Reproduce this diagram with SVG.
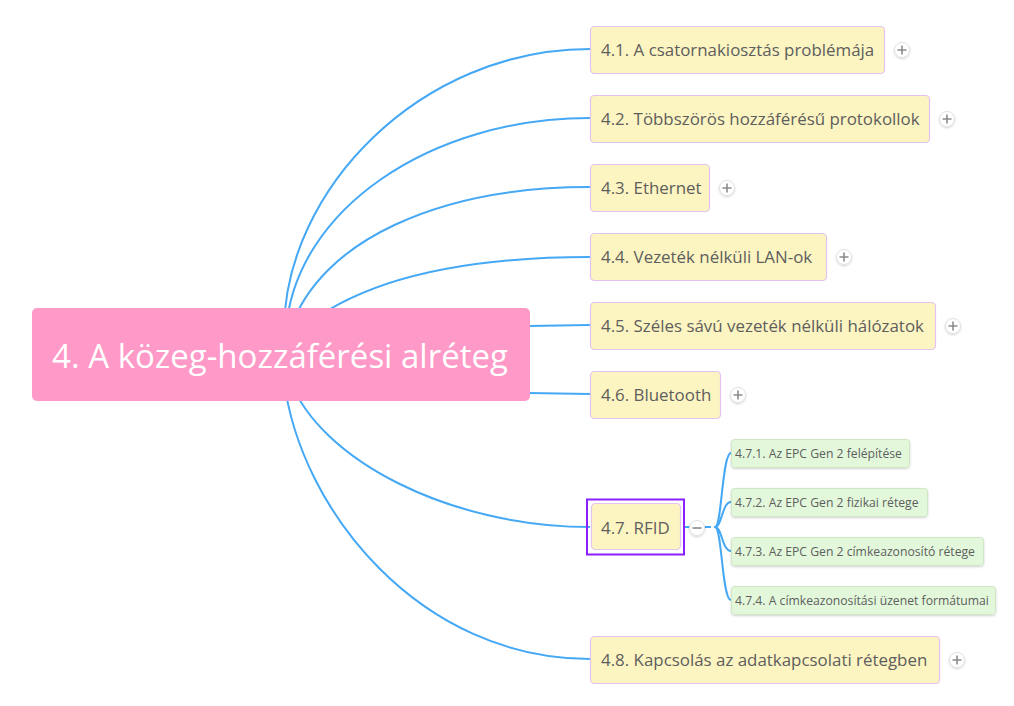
<svg xmlns="http://www.w3.org/2000/svg" width="1014" height="706" viewBox="0 0 1014 706">
<defs>
<style>
.conn{fill:none;stroke:#45A8F5;stroke-width:2}
.topic{fill:#FDF5C1;stroke:#E3C2F0;stroke-width:1.2}
.tt{font-family:"Open Sans","Noto Sans",sans-serif;font-size:16.9px;fill:#5E5E5E}
.sub{fill:#E3F8DB;stroke:#CFE6C7;stroke-width:1}
.st{font-family:"Open Sans","Noto Sans",sans-serif;font-size:12.2px;fill:#5E5E5E}
.btn{fill:#fff;stroke:#E2E2E2;stroke-width:1}
.btnl{stroke:#8C8C8C;stroke-width:1.6}
</style>
<filter id="sh" x="-20%" y="-20%" width="140%" height="160%">
<feDropShadow dx="0" dy="1" stdDeviation="1" flood-color="#000" flood-opacity="0.18"/>
</filter>
<g id="plus"><circle r="7.5" class="btn" filter="url(#sh)"/><path d="M-4.5 0H4.5M0 -4.5V4.5" class="btnl"/></g>
</defs>
<rect width="1014" height="706" fill="#fff"/>
<g id="connectors">
<path class="conn" d="M284 330 C285 190 420 49 590 49"/>
<path class="conn" d="M286 330 C295 210 430 118 590 118"/>
<path class="conn" d="M290 330 C320 240 440 187 590 187"/>
<path class="conn" d="M300 330 C360 280 460 257 590 257"/>
<path class="conn" d="M528 326 L590 325"/>
<path class="conn" d="M528 393 L590 394"/>
<path class="conn" d="M290 380 C320 460 450 527 590 527"/>
<path class="conn" d="M284 380 C300 510 420 659 590 659"/>
<path class="conn" d="M684 527 H715" stroke-dasharray="7 3"/>
<path class="conn" d="M715 527 C722 527 722 453 731 453"/>
<path class="conn" d="M715 527 C722 527 722 502 731 502"/>
<path class="conn" d="M715 527 C722 527 722 551 731 551"/>
<path class="conn" d="M715 527 C722 527 722 600 731 600"/>
</g>
<g id="central">
<rect x="32" y="308" width="498" height="93" rx="5" fill="#FF99C7"/>
<text x="280" y="368" text-anchor="middle" font-family="'Open Sans','Noto Sans',sans-serif" font-size="33" fill="#fff">4. A közeg-hozzáférési alréteg</text>
</g>
<g id="n41"><rect class="topic" x="590.5" y="26.5" width="294" height="47" rx="4"/><text class="tt" x="601" y="56">4.1. A csatornakiosztás problémája</text><use href="#plus" x="902" y="50"/></g>
<g id="n42"><rect class="topic" x="590.5" y="95.5" width="339" height="47" rx="4"/><text class="tt" x="601" y="125">4.2. Többszörös hozzáférésű protokollok</text><use href="#plus" x="947" y="119"/></g>
<g id="n43"><rect class="topic" x="590.5" y="164.5" width="119" height="47" rx="4"/><text class="tt" x="601" y="194">4.3. Ethernet</text><use href="#plus" x="727" y="188"/></g>
<g id="n44"><rect class="topic" x="590.5" y="233.5" width="236" height="47" rx="4"/><text class="tt" x="601" y="263">4.4. Vezeték nélküli LAN-ok</text><use href="#plus" x="844" y="257"/></g>
<g id="n45"><rect class="topic" x="590.5" y="302.5" width="345" height="47" rx="4"/><text class="tt" x="601" y="332">4.5. Széles sávú vezeték nélküli hálózatok</text><use href="#plus" x="953" y="326"/></g>
<g id="n46"><rect class="topic" x="590.5" y="371.5" width="130" height="47" rx="4"/><text class="tt" x="601" y="401">4.6. Bluetooth</text><use href="#plus" x="738" y="395"/></g>
<g id="n47"><rect x="587" y="499.5" width="97" height="55" fill="none" stroke="#8A1FFF" stroke-width="2"/><rect class="topic" x="591.5" y="503.5" width="89" height="46" rx="4"/><text class="tt" x="601" y="534">4.7. RFID</text><g transform="translate(697 528)"><circle r="7.5" class="btn" filter="url(#sh)"/><path d="M-4.5 0H4.5" class="btnl"/></g></g>
<g id="n471"><rect class="sub" x="731.5" y="439.5" width="178" height="28" rx="3" filter="url(#sh)"/><text class="st" x="735" y="458">4.7.1. Az EPC Gen 2 felépítése</text></g>
<g id="n472"><rect class="sub" x="731.5" y="488.5" width="196" height="28" rx="3" filter="url(#sh)"/><text class="st" x="735" y="507">4.7.2. Az EPC Gen 2 fizikai rétege</text></g>
<g id="n473"><rect class="sub" x="731.5" y="537.5" width="252" height="28" rx="3" filter="url(#sh)"/><text class="st" x="735" y="556">4.7.3. Az EPC Gen 2 címkeazonosító rétege</text></g>
<g id="n474"><rect class="sub" x="731.5" y="586.5" width="264" height="28" rx="3" filter="url(#sh)"/><text class="st" x="735" y="605">4.7.4. A címkeazonosítási üzenet formátumai</text></g>
<g id="n48"><rect class="topic" x="590.5" y="636.5" width="349" height="47" rx="4"/><text class="tt" x="601" y="666">4.8. Kapcsolás az adatkapcsolati rétegben</text><use href="#plus" x="957" y="660"/></g>
</svg>
